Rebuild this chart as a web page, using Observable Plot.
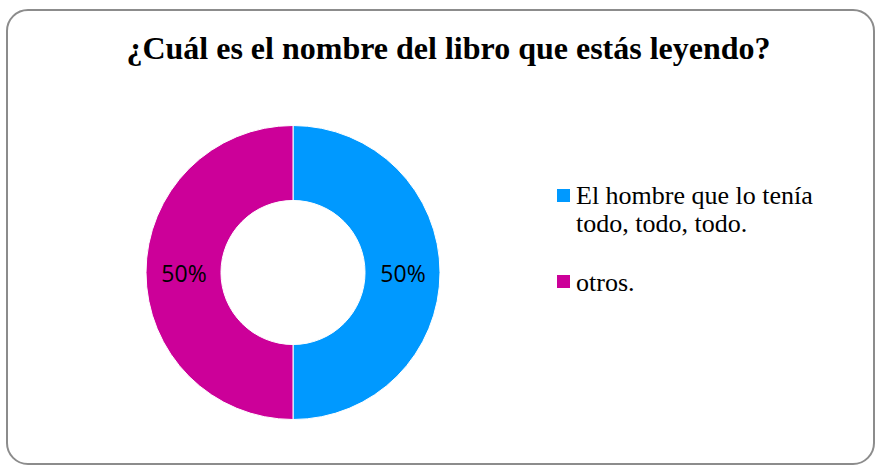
<!DOCTYPE html>
<html>
<head>
<meta charset="utf-8">
<script src="https://cdn.jsdelivr.net/npm/d3@7"></script>
<script src="https://cdn.jsdelivr.net/npm/@observablehq/plot@0.6"></script>
<style>
  html, body { margin: 0; padding: 0; background: #fff; }
  #wrap { position: relative; width: 875px; height: 466px; overflow: hidden; background: #fff; }
  #frame { position: absolute; left: 6px; top: 9px; width: 869px; height: 456px; box-sizing: border-box;
           border: 2px solid #8c8c8c; border-radius: 22px; }
  #title { position: absolute; left: 0; width: 897px; top: 29.5px; text-align: center;
           font-family: "Liberation Serif", "Times New Roman", serif; font-weight: bold; font-size: 32px;
           line-height: 36px; color: #000; white-space: nowrap; }
  #chart { position: absolute; left: 0; top: 0; }
  .legend-item { position: absolute; left: 557px; display: flex; align-items: flex-start;
                 font-family: "Liberation Serif", "Times New Roman", serif; font-size: 26px; line-height: 27.5px; color: #000; }
  .legend-item .sw { width: 13px; height: 13px; flex: none; margin-right: 6px; }
  .legend-item .tx { width: 262px; }
</style>
</head>
<body>
<div id="wrap">
  <div id="frame"></div>
  <div id="chart"></div>
  <div id="title"></div>
  <div id="legend"></div>
</div>
<script>
// ---- data ----
const titleText = "¿Cuál es el nombre del libro que estás leyendo?";
const categories = ["El hombre que lo tenía todo, todo, todo.", "otros."];
const values = [50, 50];
const percentLabels = ["50%", "50%"];
const colors = ["#0099FF", "#CC0099"];

const data = categories.map((c, i) => ({category: c, value: values[i], label: percentLabels[i]}));

const innerRatio = 0.49;
const pie = d3.pie().sort(null).value(d => d.value);
const arcs = pie(data);
const unitArc = d3.arc().innerRadius(innerRatio).outerRadius(1);
const labelData = arcs.map(a => {
  const [cx, cy] = unitArc.centroid(a);
  return {label: a.data.label, x: cx, y: -cy};
});

const colorScale = Plot.scale({color: {domain: categories, range: colors}});

function donutMark(index, scales, values, dimensions) {
  const sx = scales.x, sy = scales.y;
  const cx = sx(0), cy = sy(0);
  const r = sx(1) - sx(0);
  const arcGen = d3.arc().innerRadius(r * innerRatio).outerRadius(r);
  const g = d3.create("svg:g").attr("transform", `translate(${cx},${cy})`);
  g.selectAll("path").data(arcs).join("path")
    .attr("d", arcGen)
    .attr("fill", d => colorScale.apply(d.data.category))
    .attr("stroke", "#fff")
    .attr("stroke-width", 1);
  return g.node();
}

const plot = Plot.plot({
  width: 875,
  height: 466,
  margin: 0,
  x: {domain: [-1, 1], range: [146, 440], axis: null},
  y: {domain: [-1, 1], range: [419.5, 125.5], axis: null},
  marks: [
    donutMark,
    Plot.text(labelData, {
      x: "x", y: "y", text: "label",
      fontFamily: "'Open Sans', 'Noto Sans', sans-serif",
      fontSize: 23, fill: "#000", dy: 1.5
    })
  ]
});
document.getElementById("chart").appendChild(plot);

document.getElementById("title").textContent = titleText;

const legend = document.getElementById("legend");
const legendTops = [182, 268.5];
categories.forEach((c, i) => {
  const item = document.createElement("div");
  item.className = "legend-item";
  item.style.top = legendTops[i] + "px";
  const sw = document.createElement("div");
  sw.className = "sw";
  sw.style.background = colorScale.apply(c);
  sw.style.marginTop = (i === 0 ? 6.5 : 6) + "px";
  const tx = document.createElement("div");
  tx.className = "tx";
  tx.textContent = c;
  item.appendChild(sw);
  item.appendChild(tx);
  legend.appendChild(item);
});
</script>
</body>
</html>
